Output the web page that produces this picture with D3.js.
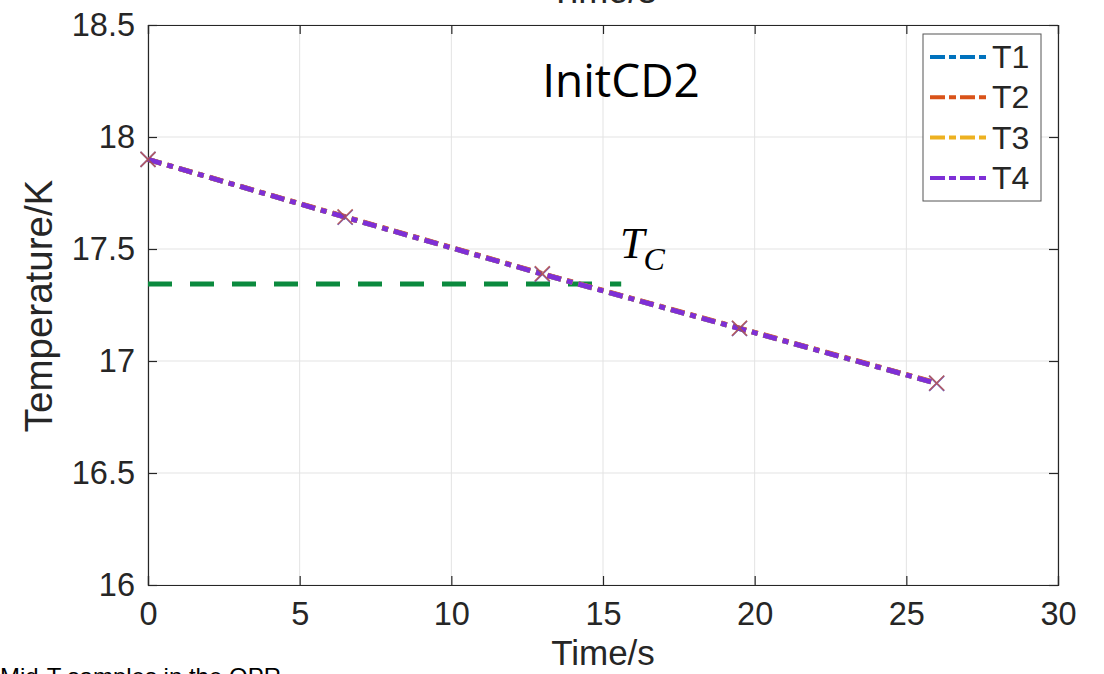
<!DOCTYPE html>
<html><head><meta charset="utf-8">
<script src="https://cdn.jsdelivr.net/npm/d3@7"></script>
<style>body{margin:0;background:#fff}svg{display:block}</style>
</head><body>
<script>
const time = [0, 6.5, 13, 19.5, 26];
const T1 = [17.9, 17.642, 17.388, 17.145, 16.9];
const T2 = [17.9, 17.644, 17.39, 17.147, 16.902];
const T3 = [17.9, 17.642, 17.388, 17.145, 16.9];
const T4 = [17.9, 17.642, 17.388, 17.145, 16.9];
const seriesNames = ["T1", "T2", "T3", "T4"];
const seriesColors = ["#0072BD", "#D95319", "#EDB120", "#7E2FD6"];
const tcTime = [0, 15.6];
const tcValue = [17.344, 17.344];
const xTicks = [0, 5, 10, 15, 20, 25, 30];
const yTicks = [16, 16.5, 17, 17.5, 18, 18.5];

const W = 1104, H = 674;
const svg = d3.select("body").append("svg").attr("width", W).attr("height", H);
const x = d3.scaleLinear().domain([0, 30]).range([148, 1058]);
const y = d3.scaleLinear().domain([16, 18.5]).range([585, 25]);
const font = "Liberation Sans, Arial, sans-serif";

// grid
svg.append("g").selectAll("line").data(xTicks).join("line")
  .attr("x1", d => x(d)).attr("x2", d => x(d)).attr("y1", y(16)).attr("y2", y(18.5))
  .attr("stroke", "#e3e3e3").attr("stroke-width", 1);
svg.append("g").selectAll("line").data(yTicks).join("line")
  .attr("y1", d => y(d)).attr("y2", d => y(d)).attr("x1", x(0)).attr("x2", x(30))
  .attr("stroke", "#e3e3e3").attr("stroke-width", 1);

// axes
const ax = svg.append("g").attr("transform", `translate(0,${y(16)})`)
  .call(d3.axisBottom(x).tickValues(xTicks).tickSize(-9).tickPadding(17).tickFormat(d => String(d)));
const ay = svg.append("g").attr("transform", `translate(${x(0)},0)`)
  .call(d3.axisLeft(y).tickValues(yTicks).tickSize(-9).tickPadding(13).tickFormat(d => String(d)));
const axT = svg.append("g").attr("transform", `translate(0,${y(18.5)})`)
  .call(d3.axisTop(x).tickValues(xTicks).tickSize(-9).tickFormat(""));
const ayR = svg.append("g").attr("transform", `translate(${x(30)},0)`)
  .call(d3.axisRight(y).tickValues(yTicks).tickSize(-9).tickFormat(""));
[ax, ay, axT, ayR].forEach(g => {
  g.selectAll("path").attr("stroke", "#262626").attr("stroke-width", 1.2);
  g.selectAll("line").attr("stroke", "#262626").attr("stroke-width", 1.2);
  g.selectAll("text").attr("font-family", font).attr("font-size", 32.5).attr("fill", "#262626");
});

// Tc line
const tcData = tcTime.map((t, i) => [t, tcValue[i]]);
svg.append("path").datum(tcData)
  .attr("d", d3.line().x(d => x(d[0])).y(d => y(d[1])))
  .attr("fill", "none").attr("stroke", "#0b8a3e").attr("stroke-width", 5)
  .attr("stroke-dasharray", "24,18");

// series
const allSeries = [T1, T2, T3, T4];
const line = d3.line().x(d => x(d[0])).y(d => y(d[1]));
allSeries.forEach((vals, i) => {
  const data = time.map((t, j) => [t, vals[j]]);
  svg.append("path").datum(data).attr("d", line)
    .attr("fill", "none").attr("stroke", seriesColors[i]).attr("stroke-width", 5)
    .attr("stroke-dasharray", "14,6,6,6");
});
// markers
const markerColors = ["#0072BD", "#7E2FD6", "#D95319"];
markerColors.forEach((c, i) => {
  const vals = allSeries[i === 1 ? 3 : (i === 2 ? 1 : 0)];
  const g = svg.append("g").attr("opacity", 0.6);
  time.forEach((t, j) => {
    const cx = x(t), cy = y(vals[j]), s = 7.5;
    g.append("path").attr("d", `M${cx-s},${cy-s}L${cx+s},${cy+s}M${cx-s},${cy+s}L${cx+s},${cy-s}`)
      .attr("stroke", c).attr("stroke-width", 1.6);
  });
});

// legend
const lg = svg.append("g");
lg.append("rect").attr("x", 923).attr("y", 34).attr("width", 118).attr("height", 167)
  .attr("fill", "#fff").attr("stroke", "#555").attr("stroke-width", 1);
seriesNames.forEach((n, i) => {
  const yy = 57 + i * 40.3;
  lg.append("line").attr("x1", 930).attr("x2", 989).attr("y1", yy).attr("y2", yy)
    .attr("stroke", seriesColors[i]).attr("stroke-width", 4).attr("stroke-dasharray", "15,4,7,4");
  lg.append("text").attr("x", 992).attr("y", yy + 11).text(n)
    .attr("font-family", font).attr("font-size", 32).attr("fill", "#262626");
});

// labels
svg.append("text").attr("x", 603).attr("y", 665).attr("text-anchor", "middle")
  .attr("font-family", font).attr("font-size", 35).attr("fill", "#262626").text("Time/s");
svg.append("text").attr("x", 603).attr("y", 3).attr("text-anchor", "middle")
  .attr("font-family", font).attr("font-size", 36).attr("fill", "#262626").text("Time/s");
svg.append("text").attr("transform", `translate(52,306) rotate(-90)`)
  .attr("text-anchor", "middle").attr("font-family", font).attr("font-size", 38.5)
  .attr("fill", "#262626").text("Temperature/K");
svg.append("text").attr("x", 621).attr("y", 97).attr("text-anchor", "middle")
  .attr("font-family", "Open Sans, Noto Sans, sans-serif").attr("font-size", 46)
  .attr("fill", "#000").text("InitCD2");
const tc = svg.append("text").attr("x", 620).attr("y", 258)
  .attr("font-family", "Liberation Serif, DejaVu Serif, serif").attr("font-style", "italic")
  .attr("font-size", 44).attr("fill", "#000");
tc.append("tspan").text("T");
tc.append("tspan").attr("dx", -1).attr("dy", 12).attr("font-size", 32).text("C");
svg.append("text").attr("x", 0).attr("y", 685).attr("font-family", font)
  .attr("font-size", 24).attr("fill", "#000").text("Mid-T samples in the OPR");
</script>
</body></html>
